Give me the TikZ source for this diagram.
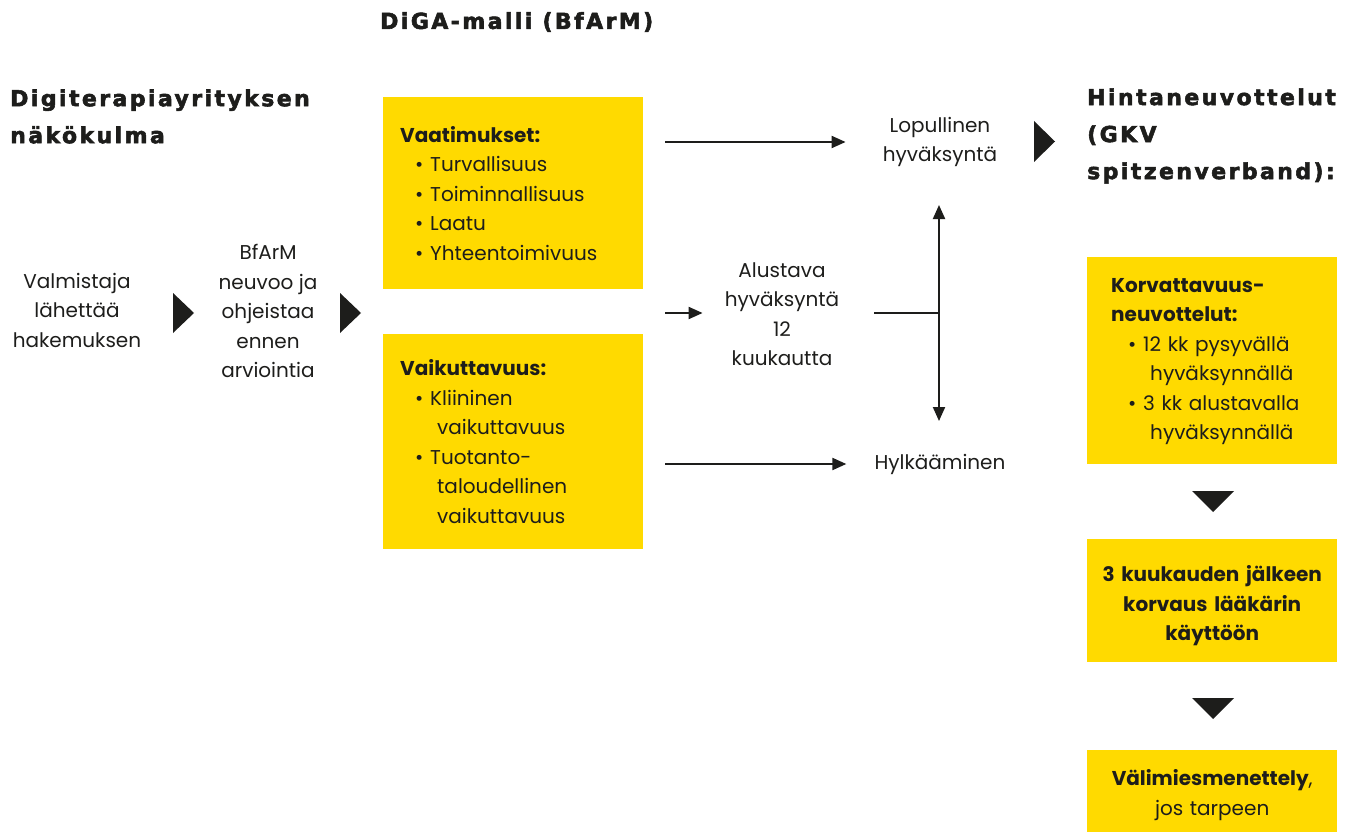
\documentclass[tikz,border=0pt]{standalone}
\usepackage{fontspec}
\setmainfont{Poppins}
\newfontfamily\headfont{DejaVu Sans}[LetterSpace=11, FakeBold=2.5]
\usetikzlibrary{arrows.meta,calc}
\definecolor{diyellow}{HTML}{FFDA00}
\definecolor{diink}{HTML}{1D1D1B}
\newcommand{\bul}{\hspace*{15pt}\makebox[15pt][l]{\textbullet}}
\newcommand{\cont}{\hspace*{37pt}}

\begin{document}
\begin{tikzpicture}[x=1pt, y=-1pt,
    every node/.style={text=diink, inner sep=0pt, font=\fontsize{20}{29.5}\selectfont},
    head/.style={font=\headfont\bfseries\fontsize{22}{37}\selectfont, align=left, anchor=west},
    plain/.style={align=center},
    ybox/.style={fill=diyellow, anchor=north west, minimum width=260pt, inner xsep=17pt, text width=226pt, align=left},
    rbox/.style={fill=diyellow, anchor=north west, minimum width=250pt, text width=250pt, align=center},
    conn/.style={draw=diink, line width=2pt, -{Triangle[length=14pt,width=12pt]}},
    tri/.style={fill=diink}]
    \useasboundingbox (0,0) rectangle (1353,832);

    % Define nodes
    \node [head] (diga) at (380,22) {DiGA-malli (BfArM)};
    \node [head] (yritys) at (10,116.5) {Digiterapiayrityksen\\näkökulma};
    \node [head] (hinta) at (1087,136) {Hintaneuvottelut\\(GKV\\spitzenverband):};

    \node [plain] (valm) at (77,310) {Valmistaja\\lähettää\\hakemuksen};
    \node [plain] (neuvoo) at (268,311) {BfArM\\neuvoo ja\\ohjeistaa\\ennen\\arviointia};

    \node [ybox, minimum height=192pt] (vaat) at (383,97) {\textbf{Vaatimukset:}\\
        \bul Turvallisuus\\ \bul Toiminnallisuus\\ \bul Laatu\\ \bul Yhteentoimivuus};
    \node [ybox, minimum height=215pt] (vaik) at (383,334) {\textbf{Vaikuttavuus:}\\
        \bul Kliininen\\ \cont vaikuttavuus\\ \bul Tuotanto-\\ \cont taloudellinen\\ \cont vaikuttavuus};

    \node [plain] (lop) at (940,142) {Lopullinen\\hyväksyntä};
    \node [plain] (alu) at (782,314) {Alustava\\hyväksyntä\\12\\kuukautta};
    \node [plain] (hyl) at (940,464) {Hylkääminen};
    \coordinate (fork) at (939,313);
    \coordinate (up) at (939,205);
    \coordinate (down) at (939,421);

    \node [ybox, minimum width=250pt, inner xsep=24pt, text width=202pt, minimum height=207pt] (korv) at (1087,257) {\rule{0pt}{16pt}\textbf{Korvattavuus-}\\ \textbf{neuvottelut:}\\
        \hspace*{2pt}\bul 12 kk pysyvällä\\ \hspace*{2pt}\cont hyväksynnällä\\ \hspace*{2pt}\bul 3 kk alustavalla\\ \hspace*{2pt}\cont hyväksynnällä};
    \node [rbox, minimum height=123pt] (korvaus) at (1087,539) {\rule{0pt}{26pt}\textbf{3 kuukauden jälkeen}\\ \textbf{korvaus lääkärin}\\ \textbf{käyttöön}};
    \node [rbox, minimum height=86pt] (valim) at (1087,750) {\rule{0pt}{20pt}\textbf{Välimiesmenettely},\\ jos tarpeen};

    % Draw edges
    \fill [tri] (173,293) -- (194,313) -- (173,333) -- cycle;
    \fill [tri] (340,293) -- (361,313) -- (340,333) -- cycle;
    \fill [tri] (1034,121) -- (1055,141.5) -- (1034,162) -- cycle;
    \fill [tri] (1192,491) -- (1234,491) -- (1213,512) -- cycle;
    \fill [tri] (1192,698) -- (1234,698) -- (1213,719) -- cycle;

    \draw [conn, shorten <=22pt, shorten >=37pt] (vaat.east |- lop) -- (lop.west);
    \draw [conn, shorten <=22pt, shorten >=22pt] (vaat.east |- fork) -- (alu.west |- fork);
    \draw [conn, shorten <=22pt, shorten >=28pt] (vaik.east |- hyl) -- (hyl.west);
    \draw [draw=diink, line width=2pt, shorten <=35pt] (alu.east |- fork) -- (fork);
    \draw [conn] (fork) -- (up);
    \draw [conn] (fork) -- (down);
\end{tikzpicture}
\end{document}
